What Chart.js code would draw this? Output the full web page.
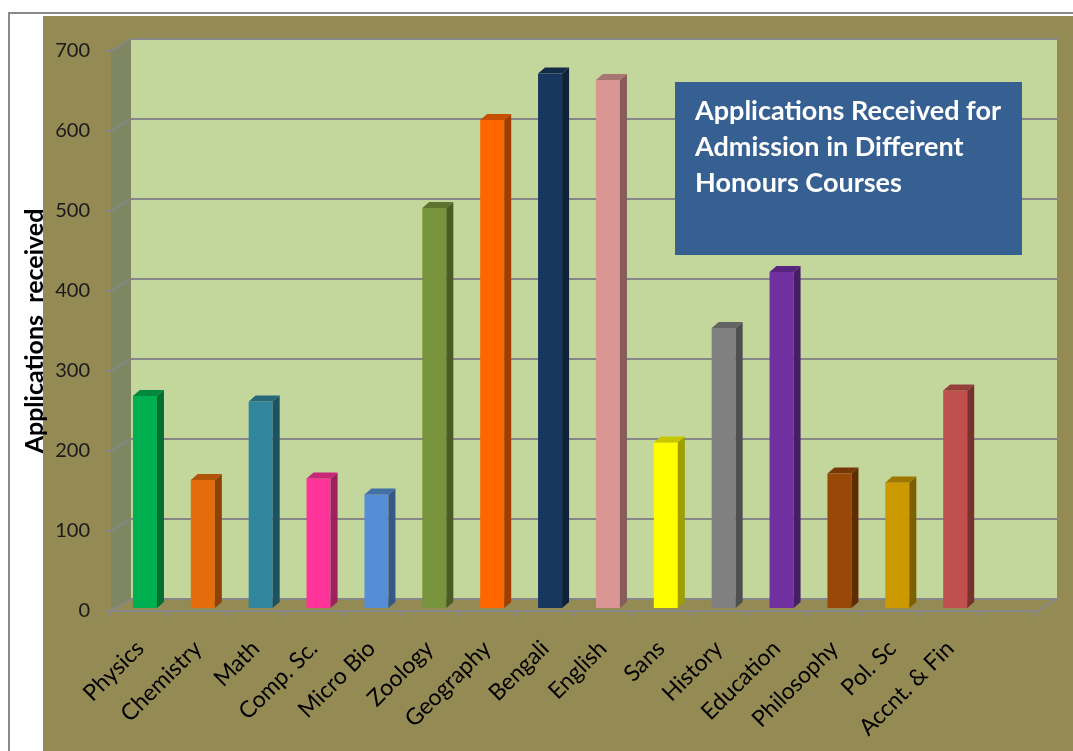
<!DOCTYPE html>
<html>
<head>
<meta charset="utf-8">
<script src="https://cdn.jsdelivr.net/npm/chart.js@4.4.0/dist/chart.umd.min.js"></script>
<style>
html,body{margin:0;padding:0;background:#fff;}
</style>
</head>
<body>
<canvas id="myChart" width="1073" height="751"></canvas>
<script>
const courses = ['Physics','Chemistry','Math','Comp. Sc.','Micro Bio','Zoology','Geography','Bengali','English','Sans','History','Education','Philosophy','Pol. Sc','Accnt. & Fin','']
const applications = [265,160,258,162,142,500,610,668,660,207,350,420,168,157,272,null]
const yTicks = [0,100,200,300,400,500,600,700]
const titleLines = ['Applications Received for','Admission in Different','Honours Courses']
const axisTitle = 'Applications  received'

const barColors = ['#00b050','#e46c0a','#31859c','#ff3399','#558ed5','#77933c','#ff6600','#17375e','#d99694','#ffff00','#808080','#7030a0','#984807','#cc9900','#c0504d','#000000']

const WALL_X = 20, WALL_Y = 12   // depth of the back wall
const BAR_X = 5, BAR_Y = 3       // bars sit a little behind the front edge
const SIDE_X = 7, SIDE_Y = 6     // depth of each bar

let shade = (hex, f) => {
    let n = parseInt(hex.slice(1), 16)
    let r = Math.round(((n >> 16) & 255) * f)
    let g = Math.round(((n >> 8) & 255) * f)
    let b = Math.round((n & 255) * f)
    return `rgb(${r},${g},${b})`
}

let poly = (ctx, pts) => {
    ctx.beginPath()
    ctx.moveTo(pts[0][0], pts[0][1])
    pts.slice(1).forEach(p => ctx.lineTo(p[0], p[1]))
    ctx.closePath()
    ctx.fill()
}

let line = (ctx, x1, y1, x2, y2) => {
    ctx.beginPath()
    ctx.moveTo(x1, y1)
    ctx.lineTo(x2, y2)
    ctx.stroke()
}

const walls = {
    id: 'walls',
    beforeDraw(chart) {
        const ctx = chart.ctx, a = chart.chartArea
        const W = chart.width, H = chart.height
        const yS = chart.scales.y
        ctx.save()
        ctx.fillStyle = '#ffffff'
        ctx.fillRect(0, 0, W, H)
        ctx.fillStyle = '#948a54'
        ctx.fillRect(43, 16, W - 43, H - 16)
        ctx.strokeStyle = '#8a8a8a'
        ctx.lineWidth = 2
        line(ctx, 9, H, 9, 13)
        line(ctx, 8, 13, W, 13)

        // side wall, back wall, floor
        ctx.fillStyle = '#7e8662'
        poly(ctx, [[a.left, a.top], [a.left + WALL_X, a.top - WALL_Y], [a.left + WALL_X, a.bottom - WALL_Y], [a.left, a.bottom]])
        ctx.fillStyle = '#c3d69b'
        ctx.fillRect(a.left + WALL_X, a.top - WALL_Y, a.right - a.left, a.bottom - a.top)
        ctx.fillStyle = '#948a54'
        poly(ctx, [[a.left, a.bottom], [a.left + WALL_X, a.bottom - WALL_Y], [a.right + WALL_X, a.bottom - WALL_Y], [a.right, a.bottom]])

        // grid lines
        ctx.strokeStyle = '#878787'
        ctx.lineWidth = 2
        yTicks.forEach(v => {
            let y = Math.round(yS.getPixelForValue(v))
            line(ctx, a.left - 6, y, a.left, y)
            line(ctx, a.left, y, a.left + WALL_X, y - WALL_Y)
            line(ctx, a.left + WALL_X, y - WALL_Y, a.right + WALL_X, y - WALL_Y)
        })
        // front edge of the floor with category ticks
        line(ctx, a.left, a.bottom, a.right, a.bottom)
        line(ctx, a.right, a.bottom, a.right + WALL_X, a.bottom - WALL_Y)
        let slot = (a.right - a.left) / courses.length
        for (let i = 0; i <= courses.length; i++) {
            let x = Math.round(a.left + i * slot)
            line(ctx, x, a.bottom, x, a.bottom + 6)
        }
        ctx.restore()
    }
}

const bars3d = {
    id: 'bars3d',
    afterDatasetsDraw(chart) {
        const ctx = chart.ctx
        const meta = chart.getDatasetMeta(0)
        ctx.save()
        meta.data.forEach((el, i) => {
            if (applications[i] == null) return
            let p = el.getProps(['x', 'y', 'base', 'width'], true)
            let xl = p.x - p.width / 2 + BAR_X, xr = p.x + p.width / 2 + BAR_X
            let top = p.y - BAR_Y, bot = p.base - BAR_Y
            let c = barColors[i]
            ctx.fillStyle = c
            ctx.fillRect(xl, top, xr - xl, bot - top)
            ctx.fillStyle = shade(c, 0.62)
            poly(ctx, [[xr, top], [xr + SIDE_X, top - SIDE_Y], [xr + SIDE_X, bot - SIDE_Y], [xr, bot]])
            ctx.fillStyle = shade(c, 0.78)
            poly(ctx, [[xl, top], [xl + SIDE_X, top - SIDE_Y], [xr + SIDE_X, top - SIDE_Y], [xr, top]])
        })
        ctx.restore()
    }
}

const titleBox = {
    id: 'titleBox',
    afterDraw(chart) {
        const ctx = chart.ctx
        ctx.save()
        ctx.fillStyle = '#376092'
        ctx.fillRect(675, 82, 347, 173)
        ctx.fillStyle = '#ffffff'
        ctx.font = 'bold 27px Lato'
        ctx.textBaseline = 'middle'
        titleLines.forEach((t, i) => ctx.fillText(t, 695, 111 + i * 36))
        ctx.restore()
    }
}

Chart.defaults.font.family = 'Lato'
Chart.defaults.color = '#1a1a1a'

const data1 = {
    labels: courses,
    datasets: [{
        data: applications,
        backgroundColor: 'rgba(0,0,0,0)',
        borderWidth: 0,
        barPercentage: 0.415,
        categoryPercentage: 1
    }]
}

const config1 = {
    type: 'bar',
    data: data1,
    plugins: [walls, bars3d, titleBox],
    options: {
        responsive: false,
        animation: false,
        layout: { padding: { left: 20, top: 51, right: 36, bottom: 0 } },
        plugins: {
            legend: false,
            tooltip: { enabled: false }
        },
        scales: {
            y: {
                min: 0,
                max: 700,
                afterFit: (s) => { s.width = 91 },
                afterBuildTicks: (s) => { s.ticks = yTicks.map(v => ({ value: v })) },
                grid: { display: false, drawTicks: false },
                border: { display: false },
                ticks: { padding: 21, font: { size: 20 }, color: '#1a1a1a' },
                title: {
                    display: true,
                    text: axisTitle,
                    color: '#000',
                    font: { size: 25, weight: 'bold' },
                    padding: { top: 0, bottom: 0 }
                }
            },
            x: {
                afterFit: (s) => { s.height = 140 },
                grid: { display: false, drawTicks: false },
                border: { display: false },
                ticks: {
                    autoSkip: false,
                    maxRotation: 45,
                    minRotation: 45,
                    padding: 24,
                    font: { size: 23 },
                    color: '#000'
                }
            }
        }
    }
}

const myChart1 = new Chart(document.getElementById('myChart'), config1)
</script>
</body>
</html>
